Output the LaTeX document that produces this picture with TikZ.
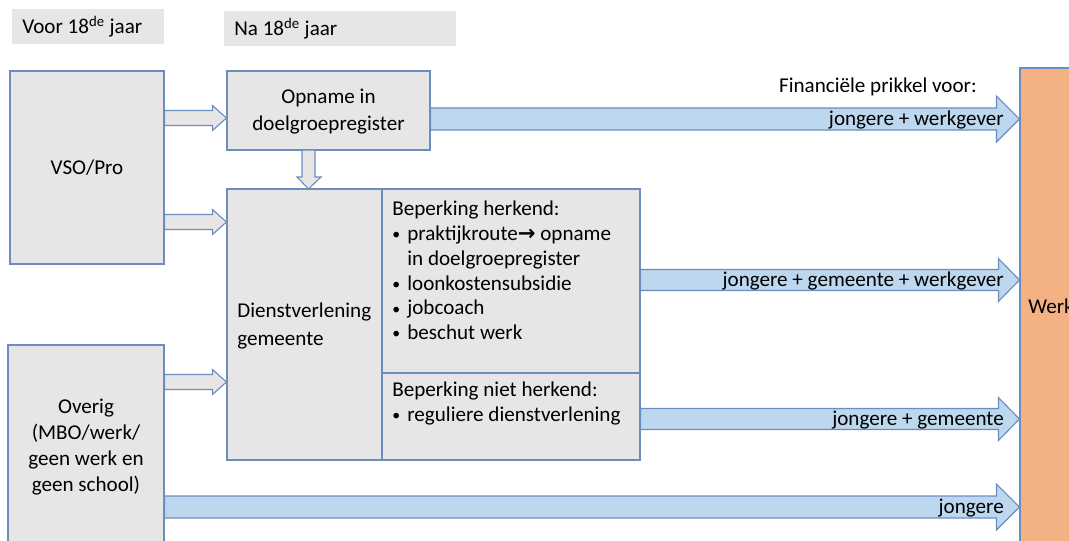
\documentclass[tikz,border=0pt]{standalone}
\usepackage{fontspec}
\setmainfont{Carlito}
\newfontfamily\symfont{DejaVu Sans}
\usetikzlibrary{calc}
\usetikzlibrary{fit}

\definecolor{boxgray}{RGB}{230,230,230}
\definecolor{boxline}{RGB}{108,142,191}
\definecolor{arrowblue}{RGB}{189,215,238}
\definecolor{werkorange}{RGB}{244,177,131}

% horizontal block arrow: style, start, tip, shaft half, head half, head length
\newcommand\blockarrow[6]{%
  \draw [#1] ($(#2)+(0,#4)$) -- ($(#3)+(-#6,#4)$) -- ($(#3)+(-#6,#5)$) -- (#3)
    -- ($(#3)+(-#6,-#5)$) -- ($(#3)+(-#6,-#4)$) -- ($(#2)+(0,-#4)$) -- cycle;}
\newcommand\itm{\makebox[10.7pt][l]{\raisebox{0.5pt}{\scalebox{0.75}{\textbullet}}}}

\tikzset{
  box/.style={draw=boxline, fill=boxgray, line width=0.8pt, inner sep=0pt},
  header/.style={fill=boxgray, inner sep=0pt},
  hollow/.style={draw=boxline, fill=boxgray, line width=0.8pt, line join=miter},
  blue/.style={draw=boxline, fill=arrowblue, line width=0.8pt, line join=miter},
  txt/.style={font=\fontsize{15}{19.5}\selectfont, inner sep=0pt},
  lst/.style={font=\fontsize{15}{17.6}\selectfont, inner sep=0pt, anchor=north west, align=left}
}

\begin{document}
\begin{tikzpicture}[x=0.025cm, y=-0.025cm]
  \clip (0,0) rectangle (1069,540);

  \node [header, fit={(12,9) (164,44)}] (voor) {};
  \node [txt, anchor=west] at (22,27) {Voor 18\textsuperscript{de} jaar};
  \node [header, fit={(224,11) (456,46)}] (na) {};
  \node [txt, anchor=west] at (234,29) {Na 18\textsuperscript{de} jaar};

  \node [box, fit={(10,71) (164,264)}] (vso) {};
  \node [txt] at (vso.center) {VSO/Pro};
  \node [box, fit={(8,345) (164,560)}] (overig) {};
  \node [txt, font=\fontsize{15}{18.3}\selectfont, align=center, anchor=north] at (86,399)
    {Overig\\(MBO/werk/\\geen werk en\\geen school)};

  \node [box, fit={(227,71) (430,150)}] (opn) {};
  \node [txt, align=center] at ($(opn.center)+(0,1)$) {Opname in\\doelgroepregister};

  \node [box, fit={(227,189) (382,460)}] (dienst) {};
  \node [txt, align=left, anchor=west] at (237,326) {Dienstverlening\\gemeente};
  \node [box, fit={(382,189) (640,373)}] (herk) {};
  \node [lst] at (392,201) {Beperking herkend:\\
    \itm praktijkroute{\symfont\bfseries →} opname\\
    \hphantom{\itm}in doelgroepregister\\
    \itm loonkostensubsidie\\
    \itm jobcoach\\
    \itm beschut werk};
  \node [box, fit={(382,373) (640,460)}] (nherk) {};
  \node [lst] at (392,382) {Beperking niet herkend:\\
    \itm reguliere dienstverlening};

  \node [box, fill=werkorange, fit={(1020,68) (1110,560)}] (werk) {};
  \node [txt, anchor=west] at (1028,306) {Werk};

  % hollow arrows into the municipality
  \blockarrow{hollow}{vso.east |- 0,118}{opn.west |- 0,118}{7.5}{12.5}{14}
  \blockarrow{hollow}{vso.east |- 0,222}{dienst.west |- 0,222}{7.5}{12.5}{14}
  \blockarrow{hollow}{overig.east |- 0,382}{dienst.west |- 0,382}{7.5}{12.5}{14}
  \draw [hollow] (302,150) -- (302,177) -- (297,177) -- (308.5,189) -- (321,177)
    -- (315,177) -- (315,150) -- cycle;

  % financial incentive arrows
  \node [txt, anchor=east] at (977,87) {Financiële prikkel voor:};
  \blockarrow{blue}{opn.east |- 0,119}{werk.west |- 0,119}{11}{23}{23}
  \blockarrow{blue}{herk.east |- 0,280}{werk.west |- 0,280}{10.5}{21.5}{21}
  \blockarrow{blue}{nherk.east |- 0,419}{werk.west |- 0,419}{10.5}{21.5}{21}
  \blockarrow{blue}{overig.east |- 0,507}{werk.west |- 0,507}{11}{23}{23}
  \node [txt, anchor=east] at (1004,120) {jongere + werkgever};
  \node [txt, anchor=east] at (1004,281) {jongere + gemeente + werkgever};
  \node [txt, anchor=east] at (1004,420) {jongere + gemeente};
  \node [txt, anchor=east] at (1004,508) {jongere};
\end{tikzpicture}
\end{document}
